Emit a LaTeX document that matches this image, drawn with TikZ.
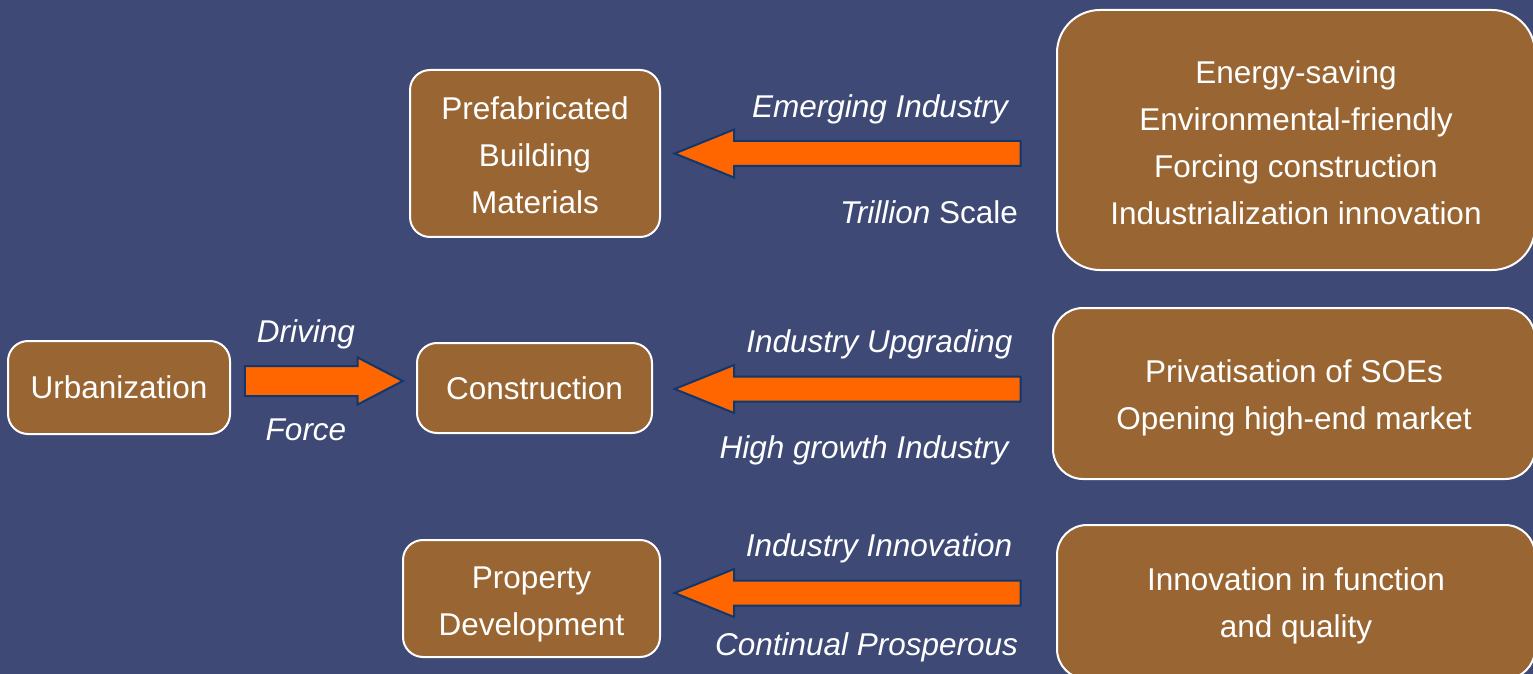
\documentclass[tikz,border=0pt]{standalone}
\usepackage{fontspec}
\setmainfont{Liberation Sans}
\usetikzlibrary{shapes.arrows,positioning}

\definecolor{slate}{RGB}{62,74,117}
\definecolor{brownbox}{RGB}{153,102,51}
\definecolor{fatorange}{RGB}{255,102,0}
\definecolor{rimblue}{RGB}{16,56,110}

\tikzstyle{box}=[rectangle, rounded corners=10pt, draw=white, line width=1pt, fill=brownbox, text=white, align=center, font=\fontsize{15.75}{23.5}\selectfont]
\tikzstyle{lbl}=[text=white, inner sep=0pt, font=\fontsize{15.75}{23.5}\selectfont\itshape]
\tikzstyle{fat}=[single arrow, draw=rimblue, line width=1pt, fill=fatorange, inner xsep=0pt, inner ysep=5.75pt, minimum width=0pt, single arrow head extend=5.75pt, single arrow tip angle=44, rotate=180, minimum height=173pt, anchor=tip]

\begin{document}
\begin{tikzpicture}[x=0.5pt,y=-0.5pt]

\useasboundingbox (0,0) rectangle (1533,674);
\fill[slate] (0,0) rectangle (1533,674);

\node[box, minimum width=111pt, minimum height=46.5pt] (urban) at (119,387.5) {Urbanization};
\node[box, minimum width=117.5pt, minimum height=45pt] (constr) at (534.5,388) {Construction};
\node[box, minimum width=125pt, minimum height=83.5pt] (prefab) at (535,153.5) {\rule{0pt}{13.5pt}Prefabricated\\Building\\Materials};
\node[box, minimum width=128.5pt, minimum height=58.5pt] (propdev) at (531.5,598.5) {\rule{0pt}{16.3pt}Property\\Development};

\node[box, rounded corners=21.5pt, minimum width=239pt, minimum height=130pt] (energy) at (1296,140) {\rule{0pt}{13.8pt}Energy-saving\\Environmental-friendly\\Forcing construction\\Industrialization innovation};
\node[box, rounded corners=15pt, minimum width=241pt, minimum height=85.5pt] (privat) at (1294,393.5) {\rule{0pt}{15.8pt}Privatisation of SOEs\\Opening high-end market};
\node[box, rounded corners=15pt, minimum width=239pt, minimum height=77pt] (innov) at (1296,602) {\rule{0pt}{15.3pt}Innovation in function\\and quality};

\node[fat, rotate=180, minimum height=79pt, inner ysep=7pt, single arrow head extend=4.25pt, single arrow tip angle=55] (drive) at ([xshift=-5.5pt,yshift=3.5pt]constr.west) {};
\node[fat] (arrtop) at ([xshift=5.5pt]prefab.east) {};
\node[fat] (arrmid) at ([xshift=9.5pt,yshift=-0.5pt]constr.east) {};
\node[fat] (arrlow) at ([xshift=5.5pt,yshift=2.75pt]propdev.east) {};

\node[lbl] (driving) at (306,334) {Driving};
\node[lbl] (force) at (306,430) {Force};
\node[lbl] (emerging) at (880,109) {Emerging Industry};
\node[lbl] (trillion) at (929,212) {Trillion \textup{Scale}};
\node[lbl] (upgrading) at (879.5,344) {Industry Upgrading};
\node[lbl] (highgrowth) at (864,450) {High growth Industry};
\node[lbl] (innovation) at (879,548) {Industry Innovation};
\node[lbl] (prosperous) at (866.5,647) {Continual Prosperous};

\end{tikzpicture}
\end{document}
